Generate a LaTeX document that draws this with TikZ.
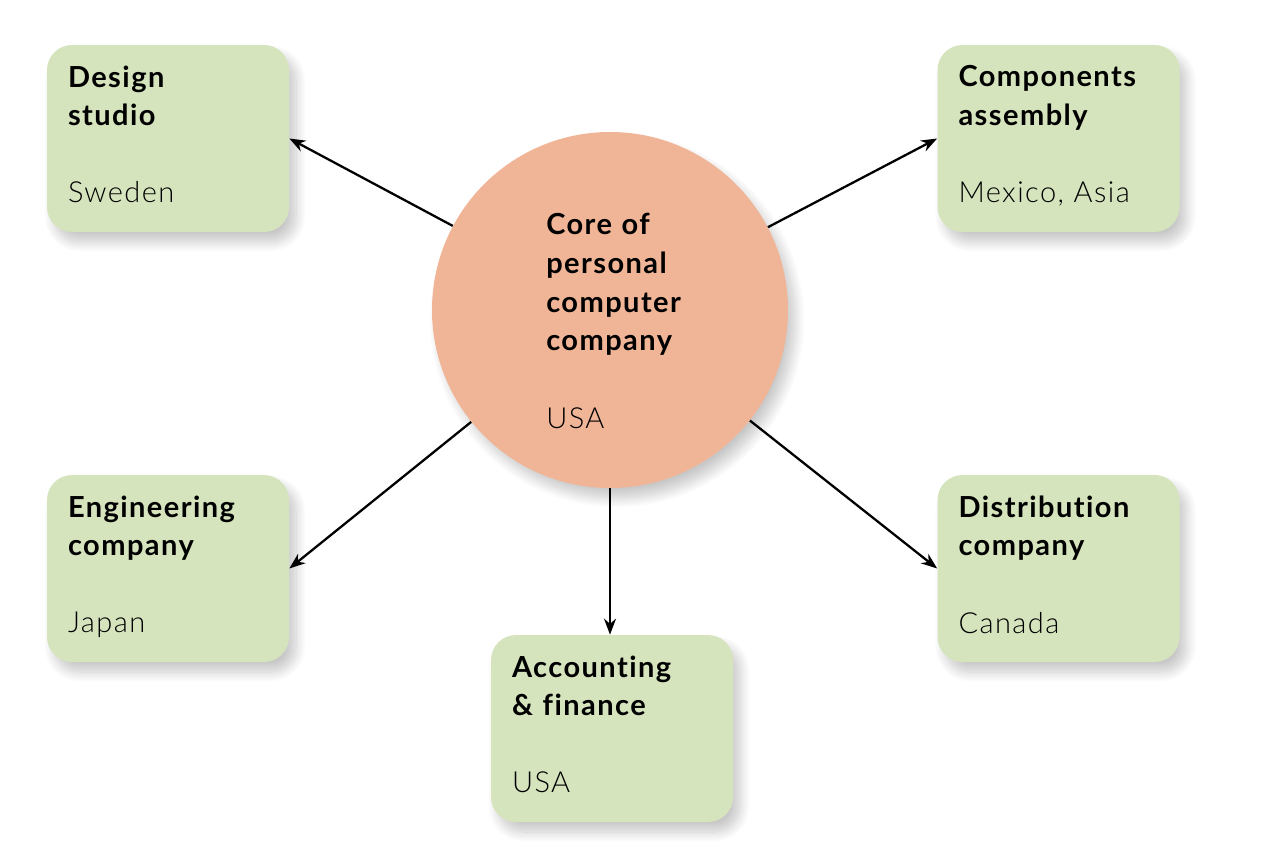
\documentclass[tikz,border=0pt]{standalone}
\usepackage{fontspec}
\setmainfont{Lato}[Ligatures=NoCommon, LetterSpace=5]
\newfontfamily\lightfont{Lato Light}[Ligatures=NoCommon, LetterSpace=5]
\usetikzlibrary{positioning}
\usetikzlibrary{arrows.meta}
\usetikzlibrary{shadows.blur}
\definecolor{boxgreen}{RGB}{214,228,190}
\definecolor{corepeach}{RGB}{240,181,150}
% light place name, with a little extra depth below it
\newcommand{\where}[1]{\normalfont\lightfont #1\rule[-0.17cm]{0pt}{0pt}}

\tikzset{
	soft/.style={blur shadow={shadow xshift=0.14cm, shadow yshift=-0.2cm, shadow blur radius=0.2cm,
		shadow blur steps=14, shadow opacity=22}},
	unit/.style={fill=boxgreen, rounded corners=0.5cm, minimum width=4.84cm, minimum height=3.74cm,
		text width=4.0cm, inner xsep=0.42cm, align=left,
		font=\fontsize{16.5}{22}\selectfont, soft},
	core/.style={circle, fill=corepeach, minimum size=7.12cm, inner sep=0pt, soft},
	coretext/.style={text width=2.65cm, align=left, font=\fontsize{16.5}{22}\selectfont},
	link/.style={-{Stealth[length=0.32cm,width=0.24cm]}, line width=1.3pt},
}

\begin{document}
\begin{tikzpicture}
		\useasboundingbox (0, 0) rectangle (25.76, 17.2);
		% centre
		\node[core] (pc) at (12.2, 11.0) {};
		\node[coretext] (pclabel) at (12.25, 10.78) {\bfseries Core of\\personal\\computer\\company\\[22pt]\normalfont\lightfont USA};
		% outer units
		\node[unit] (design) at (3.36, 14.43) {\bfseries Design\\studio\\[22pt]\where{Sweden}};
		\node[unit] (assembly) at (21.17, 14.43) {\bfseries Components\\assembly\\[22pt]\where{Mexico, Asia}};
		\node[unit] (engineering) at (3.36, 5.83) {\bfseries Engineering\\company\\[22pt]\where{Japan}};
		\node[unit] (distribution) at (21.17, 5.83) {\bfseries Distribution\\company\\[22pt]\where{Canada}};
		\node[unit] (accounting) at (12.24, 2.63) {\bfseries Accounting\\\& finance\\[22pt]\where{USA}};
		% links
		\draw[link] (pc) -- (design.east);
		\draw[link] (pc) -- (assembly.west);
		\draw[link] (pc) -- (engineering.east);
		\draw[link] (pc) -- (distribution.west);
		\draw[link] (pc) -- (pc |- accounting.north);
	\end{tikzpicture}
\end{document}
